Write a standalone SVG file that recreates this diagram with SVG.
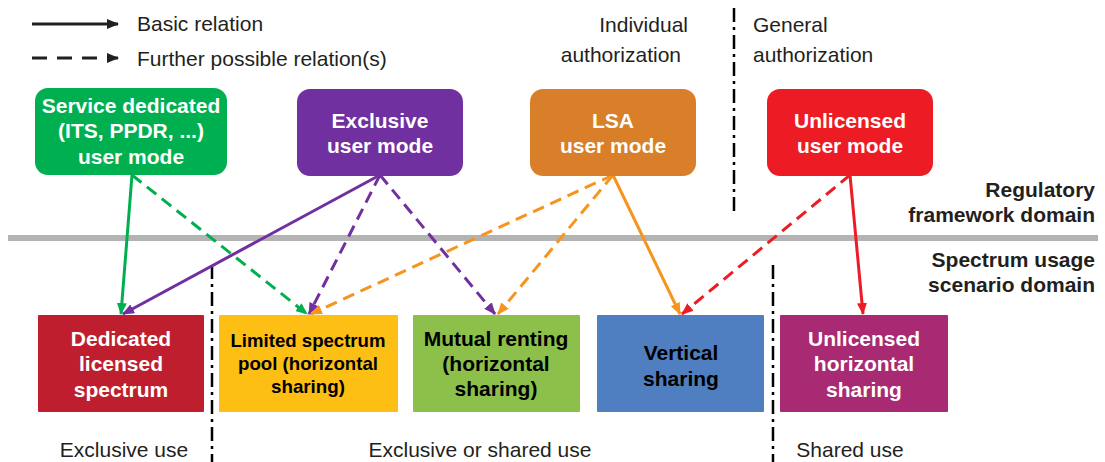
<svg xmlns="http://www.w3.org/2000/svg" width="1105" height="462" viewBox="0 0 1105 462">
  <style>
    .lbl { font-family: "Liberation Sans", Arial, sans-serif; font-size: 21px; fill: #231f20; }
    .node { font-family: "Liberation Sans", Arial, sans-serif; font-size: 21px; font-weight: bold; text-anchor: middle; }
    .w { fill: #ffffff; }
    .k { fill: #000000; }
    .sm { font-size: 18.5px; }
    .dom { font-family: "Liberation Sans", Arial, sans-serif; font-size: 21px; font-weight: bold; fill: #231f20; text-anchor: end; }
    .sep { stroke: #000; stroke-width: 2.5; stroke-dasharray: 14 5 3 5; fill: none; }
    .c { stroke-width: 3; fill: none; }
    .d { stroke-dasharray: 12 7; }
  </style>
  <defs>
    <marker id="ah-k" markerWidth="12" markerHeight="10" refX="11" refY="5" orient="auto" markerUnits="userSpaceOnUse"><path d="M0,0 L12,5 L0,10 z" fill="#231f20"/></marker>
    <marker id="ah-g" markerWidth="12" markerHeight="10" refX="11" refY="5" orient="auto" markerUnits="userSpaceOnUse"><path d="M0,0 L12,5 L0,10 z" fill="#00b050"/></marker>
    <marker id="ah-p" markerWidth="12" markerHeight="10" refX="11" refY="5" orient="auto" markerUnits="userSpaceOnUse"><path d="M0,0 L12,5 L0,10 z" fill="#7030a0"/></marker>
    <marker id="ah-o" markerWidth="12" markerHeight="10" refX="11" refY="5" orient="auto" markerUnits="userSpaceOnUse"><path d="M0,0 L12,5 L0,10 z" fill="#f7941d"/></marker>
    <marker id="ah-r" markerWidth="12" markerHeight="10" refX="11" refY="5" orient="auto" markerUnits="userSpaceOnUse"><path d="M0,0 L12,5 L0,10 z" fill="#ed1c24"/></marker>
  </defs>

  <!-- legend -->
  <g id="legend">
    <line x1="32" y1="24" x2="118" y2="24" stroke="#231f20" stroke-width="3" marker-end="url(#ah-k)"/>
    <text class="lbl" x="137" y="31">Basic relation</text>
    <line x1="32" y1="58" x2="118" y2="58" stroke="#231f20" stroke-width="3" stroke-dasharray="15 10" marker-end="url(#ah-k)"/>
    <text class="lbl" x="137" y="66">Further possible relation(s)</text>
  </g>

  <!-- authorization split -->
  <g id="authorization">
    <line class="sep" x1="734" y1="8" x2="734" y2="216"/>
    <text class="lbl" x="688" y="32" text-anchor="end">Individual</text>
    <text class="lbl" x="681" y="62" text-anchor="end">authorization</text>
    <text class="lbl" x="753" y="32">General</text>
    <text class="lbl" x="753" y="62">authorization</text>
  </g>

  <!-- domain boundary -->
  <g id="domains">
    <rect x="8" y="235" width="1090" height="6" fill="#b3b3b3"/>
    <text class="dom" x="1095" y="197">Regulatory</text>
    <text class="dom" x="1095" y="222">framework domain</text>
    <text class="dom" x="1095" y="267">Spectrum usage</text>
    <text class="dom" x="1095" y="292">scenario domain</text>
  </g>

  <!-- usage split -->
  <g id="usage">
    <line class="sep" x1="212" y1="265" x2="212" y2="462"/>
    <line class="sep" x1="773" y1="265" x2="773" y2="462"/>
    <text class="lbl" x="124" y="457" text-anchor="middle">Exclusive use</text>
    <text class="lbl" x="480" y="457" text-anchor="middle">Exclusive or shared use</text>
    <text class="lbl" x="850" y="457" text-anchor="middle">Shared use</text>
  </g>

  <!-- connectors -->
  <g id="connectors">
    <line class="c" stroke="#00b050" x1="132" y1="175" x2="121" y2="314" marker-end="url(#ah-g)"/>
    <line class="c d" stroke="#00b050" x1="132" y1="175" x2="307" y2="314" marker-end="url(#ah-g)"/>
    <line class="c" stroke="#7030a0" x1="380" y1="175" x2="123" y2="314" marker-end="url(#ah-p)"/>
    <line class="c d" stroke="#7030a0" x1="380" y1="175" x2="309" y2="314" marker-end="url(#ah-p)"/>
    <line class="c d" stroke="#7030a0" x1="380" y1="175" x2="495" y2="314" marker-end="url(#ah-p)"/>
    <line class="c d" stroke="#f7941d" x1="613" y1="175" x2="311" y2="314" marker-end="url(#ah-o)"/>
    <line class="c d" stroke="#f7941d" x1="613" y1="175" x2="498" y2="314" marker-end="url(#ah-o)"/>
    <line class="c" stroke="#f7941d" x1="613" y1="175" x2="680" y2="314" marker-end="url(#ah-o)"/>
    <line class="c d" stroke="#ed1c24" x1="850" y1="175" x2="682" y2="314" marker-end="url(#ah-r)"/>
    <line class="c" stroke="#ed1c24" x1="850" y1="175" x2="863" y2="314" marker-end="url(#ah-r)"/>
  </g>

  <!-- regulatory user modes -->
  <g id="service-dedicated">
    <rect x="35" y="88" width="192" height="87" rx="13" fill="#00b050"/>
    <text class="node w" x="131" y="113">Service dedicated</text>
    <text class="node w" x="131" y="138">(ITS, PPDR, ...)</text>
    <text class="node w" x="131" y="164">user mode</text>
  </g>
  <g id="exclusive-user">
    <rect x="297" y="89" width="166" height="87" rx="13" fill="#7030a0"/>
    <text class="node w" x="380" y="128">Exclusive</text>
    <text class="node w" x="380" y="153">user mode</text>
  </g>
  <g id="lsa-user">
    <rect x="530" y="89" width="166" height="87" rx="13" fill="#d97f29"/>
    <text class="node w" x="613" y="128">LSA</text>
    <text class="node w" x="613" y="153">user mode</text>
  </g>
  <g id="unlicensed-user">
    <rect x="767" y="89" width="166" height="87" rx="13" fill="#ed1c24"/>
    <text class="node w" x="850" y="128">Unlicensed</text>
    <text class="node w" x="850" y="153">user mode</text>
  </g>

  <!-- usage scenarios -->
  <g id="dedicated-licensed">
    <rect x="38" y="315" width="166" height="97" rx="1" fill="#be1e2d"/>
    <text class="node w" x="121" y="346">Dedicated</text>
    <text class="node w" x="121" y="371">licensed</text>
    <text class="node w" x="121" y="397">spectrum</text>
  </g>
  <g id="limited-pool">
    <rect x="219" y="315" width="179" height="97" rx="1" fill="#fdbf14"/>
    <text class="node k sm" x="308" y="347" textLength="155" lengthAdjust="spacingAndGlyphs">Limited spectrum</text>
    <text class="node k sm" x="308" y="370" textLength="140" lengthAdjust="spacingAndGlyphs">pool (horizontal</text>
    <text class="node k sm" x="308" y="393" textLength="74" lengthAdjust="spacingAndGlyphs">sharing)</text>
  </g>
  <g id="mutual-renting">
    <rect x="413" y="315" width="167" height="97" rx="1" fill="#8cc04a"/>
    <text class="node k" x="496" y="346">Mutual renting</text>
    <text class="node k" x="496" y="371">(horizontal</text>
    <text class="node k" x="496" y="396">sharing)</text>
  </g>
  <g id="vertical-sharing">
    <rect x="597" y="315" width="167" height="97" rx="1" fill="#4f7fc0"/>
    <text class="node k" x="681" y="360">Vertical</text>
    <text class="node k" x="681" y="386">sharing</text>
  </g>
  <g id="unlicensed-horizontal">
    <rect x="780" y="315" width="168" height="97" rx="1" fill="#a72a72"/>
    <text class="node w" x="864" y="346">Unlicensed</text>
    <text class="node w" x="864" y="371">horizontal</text>
    <text class="node w" x="864" y="397">sharing</text>
  </g>
</svg>
